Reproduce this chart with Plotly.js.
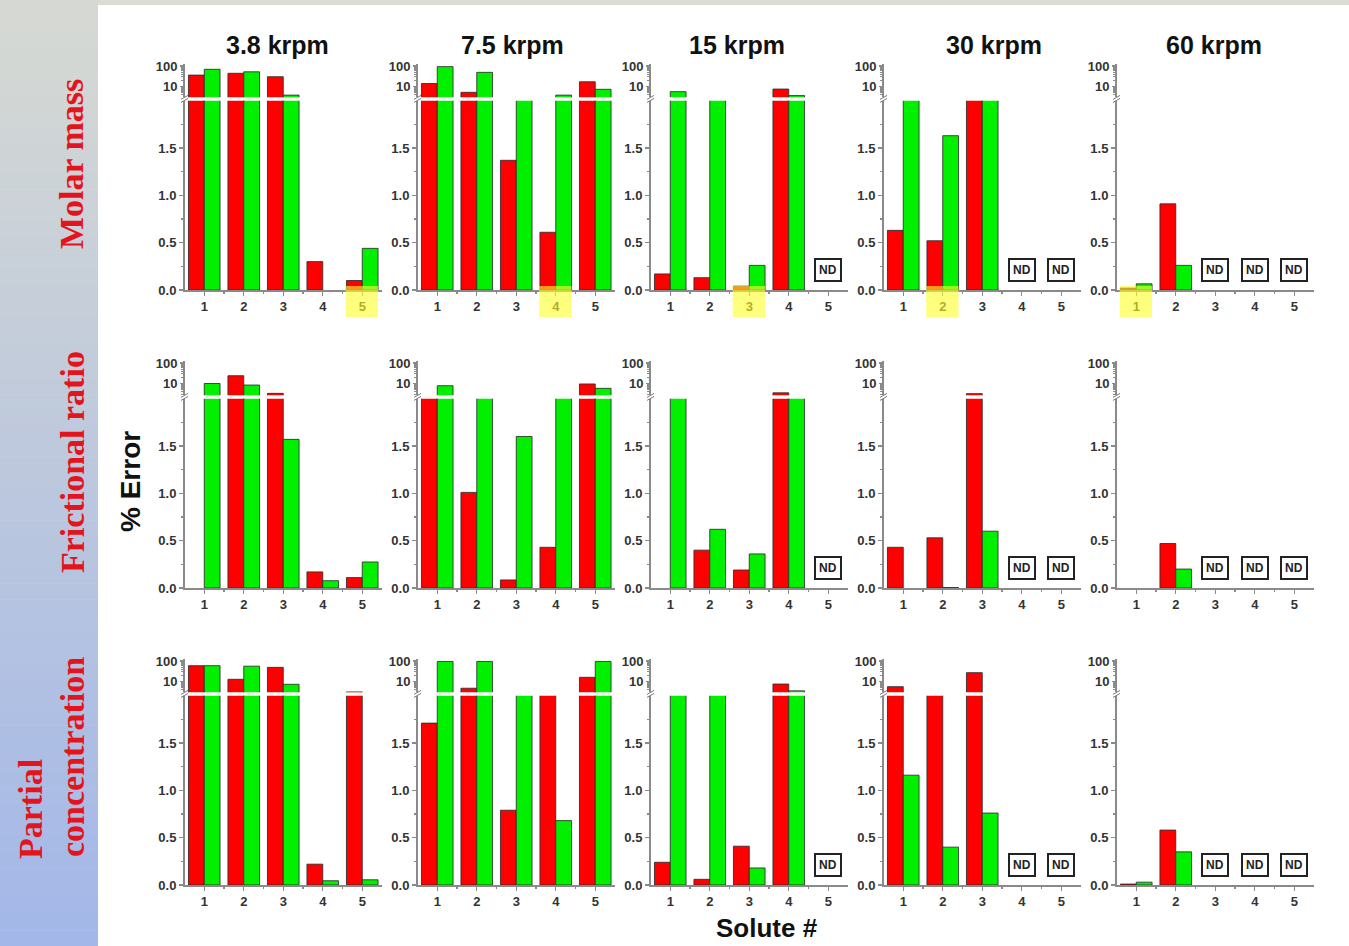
<!DOCTYPE html>
<html><head><meta charset="utf-8">
<script src="https://cdn.plot.ly/plotly-3.0.1.min.js"></script>
<style>html,body{margin:0;padding:0;background:#fff;} #chart{width:1349px;height:946px;}</style>
</head><body><div id="chart"></div>
<script>
// ---------------- DATA ----------------
const speeds = ['3.8 krpm', '7.5 krpm', '15 krpm', '30 krpm', '60 krpm'];
const solutes = [1, 2, 3, 4, 5];
const soluteLabels = ['1', '2', '3', '4', '5'];
const propertyNames = ['Molar mass', 'Frictional ratio', 'Partial concentration'];

// % error per speed (outer) and solute (inner); null = no bar
const molarMassRed = [
  [36, 44, 30, 0.30, 0.10],
  [14, 5.2, 1.37, 0.61, 17],
  [0.17, 0.13, 0.04, 7.5, null],
  [0.63, 0.52, 2.3, null, null],
  [0.02, 0.91, null, null, null]
];
const molarMassGreen = [
  [69, 52, 3.8, null, 0.44],
  [93, 49, 2.3, 3.8, 7.3],
  [5.6, 2.3, 0.26, 3.6, null],
  [2.3, 1.63, 2.3, null, null],
  [0.065, 0.26, null, null, null]
];
const frictionalRatioRed = [
  [null, 24, 3.3, 0.17, 0.11],
  [2.3, 1.01, 0.085, 0.43, 9.5],
  [null, 0.40, 0.19, 3.5, null],
  [0.43, 0.53, 3.2, null, null],
  [null, 0.47, null, null, null]
];
const frictionalRatioGreen = [
  [10, 8.4, 1.57, 0.077, 0.275],
  [7.8, 2.3, 1.6, 2.3, 5.8],
  [2.3, 0.62, 0.36, 2.3, null],
  [null, 0.005, 0.60, null, null],
  [null, 0.20, null, null, null]
];
const concentrationRed = [
  [59, 12.8, 49, 0.22, 3.1],
  [1.71, 4.7, 0.79, 2.3, 16],
  [0.24, 0.06, 0.41, 7.5, null],
  [5.6, 2.3, 27, null, null],
  [0.01, 0.58, null, null, null]
];
const concentrationGreen = [
  [59, 56, 7.3, 0.045, 0.055],
  [95, 95, 2.3, 0.68, 95],
  [2.3, 2.3, 0.18, 3.5, null],
  [1.16, 0.40, 0.76, null, null],
  [0.03, 0.35, null, null, null]
];
const notDetermined = [[], [], [5], [4, 5], [3, 4, 5]];
const highlightedSolute = [5, 4, 3, 2, 1]; // first row only

const lowTickVals = [0, 0.5, 1, 1.5];
const lowTickText = ['0.0', '0.5', '1.0', '1.5'];
const highTickVals = [10, 100];
const highTickText = ['10', '100'];

// ---------------- LAYOUT HELPERS ----------------
const W = 1349, H = 946;
const fx = px => px / W;
const fy = py => 1 - py / H;
const redSeries = [molarMassRed, frictionalRatioRed, concentrationRed];
const greenSeries = [molarMassGreen, frictionalRatioGreen, concentrationGreen];

const colLeft = c => 184.5 + 233 * c;
const colWidth = 197.5;
const rowZero = [290, 588, 885];
const unitPx = 94.67;
const row10 = [86.5, 383.5, 681.5];
const decadePx = 20.5;
const BREAK = 2.0;

const axRef = (p, n) => n === 1 ? p : p + n;
const axKey = (p, n) => p + 'axis' + (n === 1 ? '' : n);

const tickFont = {family: 'Arial, "Liberation Sans", sans-serif', size: 13, color: '#333', weight: 'bold'};
const axisColor = '#8a8a8a';

const traces = [];
const layout = {
  width: W, height: H,
  margin: {l: 0, r: 0, t: 0, b: 0},
  paper_bgcolor: '#ffffff',
  plot_bgcolor: 'rgba(0,0,0,0)',
  showlegend: false,
  shapes: [],
  annotations: []
};

// left gradient strip & top band
const nBands = 60;
const cTop = [214, 217, 211], cBot = [163, 183, 232];
for (let i = 0; i < nBands; i++) {
  const t = i / (nBands - 1);
  const col = cTop.map((v, k) => Math.round(v + (cBot[k] - v) * t));
  layout.shapes.push({type: 'rect', xref: 'paper', yref: 'paper', layer: 'below',
    x0: 0, x1: fx(98), y0: fy(H * (i + 1) / nBands + 0.5), y1: fy(H * i / nBands),
    fillcolor: `rgb(${col.join(',')})`, line: {width: 0}});
}
layout.shapes.push({type: 'rect', xref: 'paper', yref: 'paper', layer: 'below',
  x0: fx(98), x1: 1, y0: fy(5), y1: 1, fillcolor: '#dddcd4', line: {width: 0}});

for (let r = 0; r < 3; r++) {
  const zero = rowZero[r];
  const lowTop = zero - BREAK * unitPx;
  const upBottom = lowTop - 3.5;
  const y100 = row10[r] - decadePx;
  const upTop = y100 - 2;
  const upRange = [1 - (upBottom - row10[r]) / decadePx, 2 + (y100 - upTop) / decadePx];

  for (let c = 0; c < 5; c++) {
    const p = r * 5 + c;
    const xn = p + 1, yl = p + 1, yh = p + 16;
    const xr = axRef('x', xn), ylr = axRef('y', yl), yhr = axRef('y', yh);
    const left = colLeft(c);

    layout[axKey('x', xn)] = {
      domain: [fx(left), fx(left + colWidth)], range: [0.5, 5.5], anchor: ylr,
      showline: true, linecolor: axisColor, linewidth: 1.5, zeroline: false, showgrid: false,
      ticks: 'outside', ticklen: 4, tickwidth: 1.2, tickcolor: axisColor,
      tickvals: solutes, ticktext: soluteLabels, tickfont: tickFont,
      minor: {tickvals: [1.5, 2.5, 3.5, 4.5], ticks: 'outside', ticklen: 2.5, tickcolor: axisColor},
      fixedrange: true
    };
    layout[axKey('y', yl)] = {
      domain: [fy(zero), fy(lowTop)], range: [0, BREAK], anchor: xr,
      showline: true, linecolor: axisColor, linewidth: 1.5, zeroline: false, showgrid: false,
      ticks: 'outside', ticklen: 4, tickwidth: 1.2, tickcolor: axisColor,
      tickvals: lowTickVals, ticktext: lowTickText, tickfont: tickFont,
      minor: {tickvals: [0.25, 0.75, 1.25, 1.75], ticks: 'outside', ticklen: 2.5, tickcolor: axisColor},
      fixedrange: true
    };
    layout[axKey('y', yh)] = {
      domain: [fy(upBottom), fy(upTop)], type: 'log', range: upRange, anchor: xr,
      showline: true, linecolor: axisColor, linewidth: 1.5, zeroline: false, showgrid: false,
      ticks: 'outside', ticklen: 3, tickwidth: 1.2, tickcolor: axisColor,
      tickvals: highTickVals, ticktext: highTickText, tickfont: tickFont,
      minor: {tickvals: [3, 4, 5, 6, 7, 8, 9, 20, 30, 40, 50, 60, 70, 80, 90], ticks: 'outside', ticklen: 2, tickcolor: axisColor},
      fixedrange: true
    };

    const red = redSeries[r][c], green = greenSeries[r][c];
    const upper = arr => arr.map(v => (v != null && v > BREAK) ? v : null);
    const common = {type: 'bar', x: solutes, xaxis: xr, width: 0.4, hoverinfo: 'skip'};
    const lineStyle = {color: 'rgba(45,45,45,0.85)', width: 1};
    traces.push(Object.assign({}, common, {y: red, yaxis: ylr, offset: -0.4, marker: {color: '#ff0000', line: lineStyle}}));
    traces.push(Object.assign({}, common, {y: green, yaxis: ylr, offset: 0, marker: {color: '#00f000', line: lineStyle}}));
    traces.push(Object.assign({}, common, {y: upper(red), yaxis: yhr, offset: -0.4, marker: {color: '#ff0000', line: lineStyle}}));
    traces.push(Object.assign({}, common, {y: upper(green), yaxis: yhr, offset: 0, marker: {color: '#00f000', line: lineStyle}}));

    // axis break marks
    const yc = (lowTop + upBottom) / 2;
    [-1.5, 1.5].forEach(d => {
      layout.shapes.push({type: 'line', xref: 'paper', yref: 'paper', layer: 'above',
        x0: fx(left - 3.5), y0: fy(yc + d + 2), x1: fx(left + 3.5), y1: fy(yc + d - 2),
        line: {color: '#777', width: 1}});
    });

    // ND boxes
    notDetermined[c].forEach(s => {
      layout.annotations.push({xref: xr, yref: ylr, x: s, y: 0.21, xanchor: 'center', yanchor: 'middle',
        text: '<b>ND</b>', showarrow: false,
        font: {family: 'Arial, "Liberation Sans", sans-serif', size: 12, color: '#222'},
        bgcolor: '#ffffff', bordercolor: '#222', borderwidth: 2, borderpad: 3});
    });

    // highlight on first row
    if (r === 0) {
      const s = highlightedSolute[c];
      layout.shapes.push({type: 'rect', xref: xr, yref: 'paper', layer: 'above',
        x0: s - 0.42, x1: s + 0.4, y0: fy(317), y1: fy(286),
        fillcolor: 'rgba(255,255,40,0.6)', line: {width: 0}});
    }
  }
}

const centered = {xref: 'paper', yref: 'paper', xanchor: 'center', yanchor: 'middle', showarrow: false};

// column titles
const titleX = [277, 512, 737, 994, 1214];
speeds.forEach((t, c) => {
  layout.annotations.push(Object.assign({}, centered, {x: fx(titleX[c]), y: fy(45), text: t,
    font: {family: 'Arial, "Liberation Sans", sans-serif', size: 25, color: '#111', weight: 'bold'}}));
});

// row labels
const rowFont = {family: '"Liberation Serif", "Times New Roman", serif', size: 34, color: '#e3141b', weight: 'bold'};
layout.annotations.push(Object.assign({}, centered, {x: fx(72), y: fy(164), text: propertyNames[0], textangle: -90, font: rowFont}));
layout.annotations.push(Object.assign({}, centered, {x: fx(72), y: fy(462), text: propertyNames[1], textangle: -90, font: rowFont}));
const pc = propertyNames[2].split(' ');
layout.annotations.push(Object.assign({}, centered, {x: fx(30), y: fy(809), text: pc[0], textangle: -90, font: rowFont}));
layout.annotations.push(Object.assign({}, centered, {x: fx(72), y: fy(757), text: pc[1], textangle: -90, font: rowFont}));

// axis titles
layout.annotations.push(Object.assign({}, centered, {x: fx(130), y: fy(482), text: '% Error', textangle: -90,
  font: {family: 'Arial, "Liberation Sans", sans-serif', size: 28, color: '#111', weight: 'bold'}}));
layout.annotations.push(Object.assign({}, centered, {x: fx(767), y: fy(928), text: 'Solute #',
  font: {family: 'Arial, "Liberation Sans", sans-serif', size: 26, color: '#111', weight: 'bold'}}));

Plotly.newPlot('chart', traces, layout, {displayModeBar: false, staticPlot: true});
</script>
</body></html>
